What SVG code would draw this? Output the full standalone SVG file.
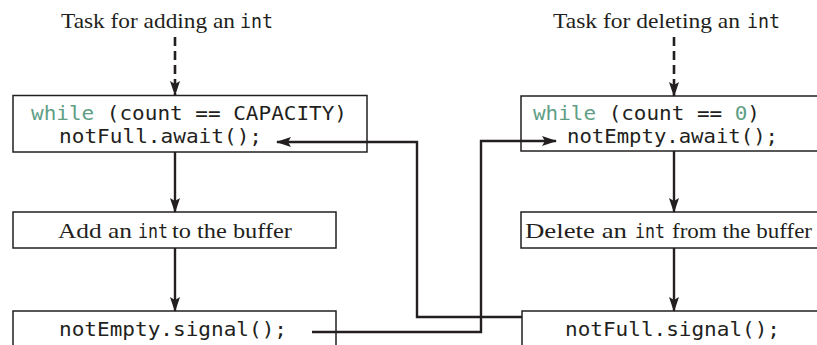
<svg xmlns="http://www.w3.org/2000/svg" width="817" height="345" viewBox="0 0 817 345">
<defs>
<style>
.box{fill:#fff;stroke:#231f20;stroke-width:1.5}
.serif{font-family:"Liberation Serif","Times New Roman",serif;font-size:21px;fill:#231f20}
.mono{font-family:"DejaVu Sans Mono","Liberation Mono",monospace;font-size:20px;fill:#231f20}
.kw{fill:#5f9e85}
.conn{fill:none;stroke:#231f20;stroke-width:2.4}
.dash{fill:none;stroke:#231f20;stroke-width:2.6;stroke-dasharray:9,5}
</style>
<marker id="ah" markerWidth="15" markerHeight="10" refX="14" refY="5" orient="auto" markerUnits="userSpaceOnUse">
<path d="M0,0 L15,5 L0,10 L3,5 Z" fill="#231f20"/>
</marker>
</defs>
<rect width="817" height="345" fill="#fff"/>

<g id="title-add">
<text class="serif" x="61" y="27.5" textLength="174" lengthAdjust="spacingAndGlyphs">Task for adding an</text>
<text class="mono" x="240" y="27.5" textLength="33" lengthAdjust="spacingAndGlyphs">int</text>
</g>
<g id="title-del">
<text class="serif" x="553" y="27.5" textLength="187" lengthAdjust="spacingAndGlyphs">Task for deleting an</text>
<text class="mono" x="747" y="27.5" textLength="33" lengthAdjust="spacingAndGlyphs">int</text>
</g>

<g id="add-wait">
<rect class="box" x="13" y="95.5" width="354" height="56.5"/>
<text class="mono" x="31" y="120" textLength="316" lengthAdjust="spacingAndGlyphs"><tspan class="kw">while</tspan> (count == CAPACITY)</text>
<text class="mono" x="59" y="143" textLength="203" lengthAdjust="spacingAndGlyphs">notFull.await();</text>
</g>
<g id="del-wait">
<rect class="box" x="521" y="96" width="300" height="55"/>
<text class="mono" x="533" y="120" textLength="227" lengthAdjust="spacingAndGlyphs"><tspan class="kw">while</tspan> (count == <tspan class="kw">0</tspan>)</text>
<text class="mono" x="567" y="143" textLength="211" lengthAdjust="spacingAndGlyphs">notEmpty.await();</text>
</g>

<g id="add-buffer">
<rect class="box" x="13" y="212" width="323" height="36"/>
<text class="serif" x="58" y="238" textLength="74" lengthAdjust="spacingAndGlyphs">Add an</text>
<text class="mono" x="138" y="238" textLength="30" lengthAdjust="spacingAndGlyphs">int</text>
<text class="serif" x="172" y="238" textLength="120" lengthAdjust="spacingAndGlyphs">to the buffer</text>
</g>
<g id="del-buffer">
<rect class="box" x="521" y="212" width="300" height="36"/>
<text class="serif" x="525" y="238" textLength="102" lengthAdjust="spacingAndGlyphs">Delete an</text>
<text class="mono" x="635" y="238" textLength="30" lengthAdjust="spacingAndGlyphs">int</text>
<text class="serif" x="672" y="238" textLength="140" lengthAdjust="spacingAndGlyphs">from the buffer</text>
</g>

<g id="add-signal">
<rect class="box" x="13" y="311" width="323" height="40"/>
<text class="mono" x="59" y="336" textLength="228" lengthAdjust="spacingAndGlyphs">notEmpty.signal();</text>
</g>
<g id="del-signal">
<rect class="box" x="522" y="311" width="300" height="40"/>
<text class="mono" x="565" y="336" textLength="215" lengthAdjust="spacingAndGlyphs">notFull.signal();</text>
</g>

<g id="connectors">
<path class="dash" d="M175,37 V95" marker-end="url(#ah)"/>
<path class="dash" d="M674,37 V96" marker-end="url(#ah)"/>
<path class="conn" d="M175,152 V212" marker-end="url(#ah)"/>
<path class="conn" d="M175,248 V311" marker-end="url(#ah)"/>
<path class="conn" d="M674,151 V212" marker-end="url(#ah)"/>
<path class="conn" d="M674,248 V311" marker-end="url(#ah)"/>
<path class="conn" d="M522,317 H417 V142 H277" marker-end="url(#ah)"/>
<path class="conn" d="M312,332 H481 V141 H556" marker-end="url(#ah)"/>
</g>
</svg>
